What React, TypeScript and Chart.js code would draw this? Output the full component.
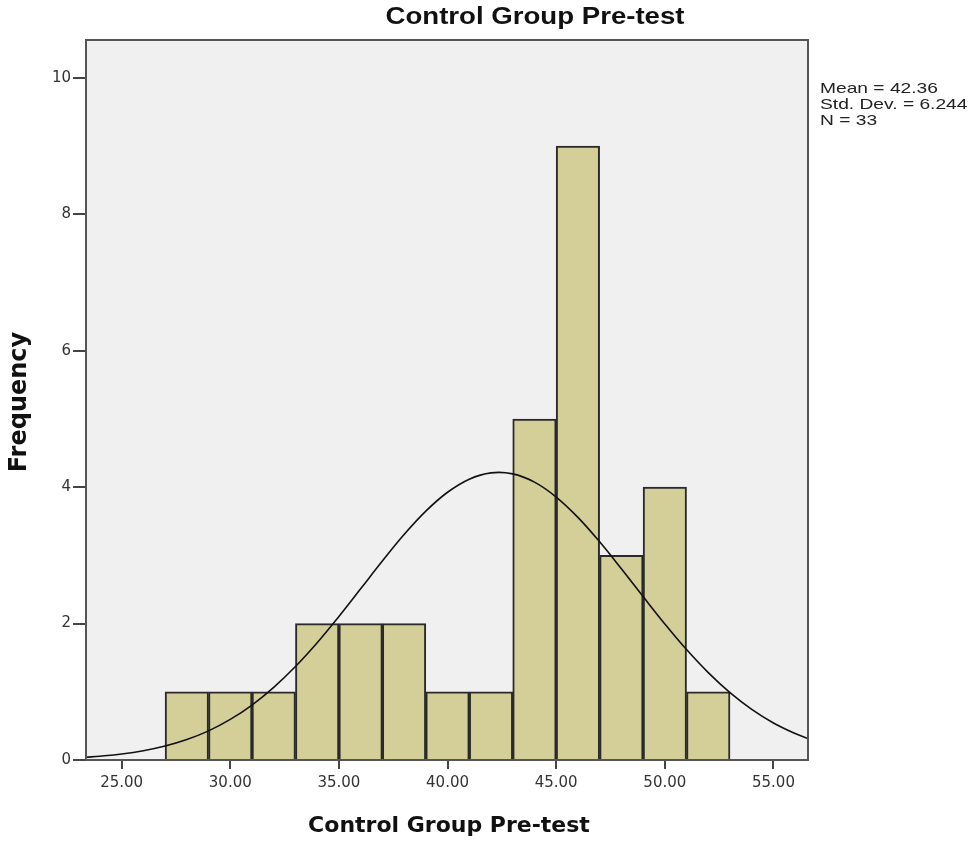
import React, { useEffect, useRef } from "react";
import { Chart, registerables } from "chart.js";

Chart.register(...registerables);

const chartTitle = "Control Group Pre-test";
const xTitle = "Control Group Pre-test";
const yTitle = "Frequency";
const binCenters = [28, 30, 32, 34, 36, 38, 40, 42, 44, 46, 48, 50, 52];
const frequencies = [1, 1, 1, 2, 2, 2, 1, 1, 5, 9, 3, 4, 1];
const curveX = [23.36, 24, 25, 26, 27, 28, 29, 30, 31, 32, 33, 34, 35, 36, 37, 38, 39, 40, 41, 42, 43, 44, 45, 46, 47, 48, 49, 50, 51, 52, 53, 54, 55, 56, 56.59];
const curveY = [0.041, 0.056, 0.088, 0.136, 0.205, 0.30, 0.427, 0.595, 0.806, 1.065, 1.371, 1.72, 2.105, 2.51, 2.917, 3.305, 3.649, 3.926, 4.118, 4.21, 4.195, 4.074, 3.856, 3.558, 3.199, 2.804, 2.396, 1.995, 1.619, 1.281, 0.987, 0.742, 0.543, 0.388, 0.314];
const xTicks = [25, 30, 35, 40, 45, 50, 55];
const yTicks = [0, 2, 4, 6, 8, 10];
const statsLines = ["Mean = 42.36", "Std. Dev. = 6.244", "N = 33"];

export default function App() {
  const ref = useRef<HTMLCanvasElement>(null);
  useEffect(() => {
    document.body.style.margin = "0";
    const canvas = ref.current!;
    const decor = {
      id: "decor",
      beforeDraw(chart: any) {
        const { ctx, chartArea: a } = chart;
        ctx.save();
        ctx.fillStyle = "#f0f0f0";
        ctx.fillRect(a.left, a.top, a.right - a.left, a.bottom - a.top);
        ctx.restore();
      },
      afterDatasetsDraw(chart: any) {
        const { ctx, chartArea: a } = chart;
        ctx.save();
        ctx.strokeStyle = "#555555";
        ctx.lineWidth = 2;
        ctx.strokeRect(a.left, a.top, a.right - a.left, a.bottom - a.top);
        ctx.restore();
      },
      afterDraw(chart: any) {
        const { ctx } = chart;
        ctx.save();
        ctx.fillStyle = "#111";
        ctx.textAlign = "center";
        ctx.textBaseline = "middle";
        ctx.save();
        ctx.translate(535, 18);
        ctx.scale(1.2, 1);
        ctx.font = "bold 23px 'Liberation Sans', Arial, sans-serif";
        ctx.fillText(chartTitle, 0, 0);
        ctx.restore();
        ctx.font = "bold 22px 'DejaVu Sans', sans-serif";
        ctx.fillText(xTitle, 449, 826);
        ctx.save();
        ctx.translate(20, 402);
        ctx.rotate(-Math.PI / 2);
        ctx.font = "bold 24px 'DejaVu Sans', sans-serif";
        ctx.fillText(yTitle, 0, 0);
        ctx.restore();
        ctx.fillStyle = "#222";
        ctx.textAlign = "left";
        statsLines.forEach((s, i) => {
          ctx.save();
          ctx.translate(820, 89 + i * 16);
          ctx.scale(1.28, 1);
          ctx.font = "15px 'Liberation Sans', Arial, sans-serif";
          ctx.fillText(s, 0, 0);
          ctx.restore();
        });
        ctx.restore();
      },
    };
    const chart = new Chart(canvas, {
      type: "bar",
      data: {
        datasets: [
          {
            type: "line",
            data: curveX.map((x, i) => ({ x, y: curveY[i] })),
            borderColor: "#111",
            borderWidth: 1.6,
            pointRadius: 0,
            tension: 0.4,
            fill: false,
            order: 0,
          } as any,
          {
            type: "bar",
            data: binCenters.map((x, i) => ({ x, y: frequencies[i] })),
            backgroundColor: "#d4cf98",
            borderColor: "#2a2a2a",
            borderWidth: 2,
            barPercentage: 1,
            categoryPercentage: 1,
            order: 1,
          } as any,
        ],
      },
      options: {
        animation: false,
        responsive: false,
        layout: { padding: { left: 0, right: 165, top: 40, bottom: 0 } },
        plugins: { legend: { display: false }, tooltip: { enabled: false }, title: { display: false } },
        scales: {
          x: {
            type: "linear",
            min: 23.36,
            max: 56.59,
            offset: false,
            afterBuildTicks: (s: any) => { s.ticks = xTicks.map((v) => ({ value: v })); },
            afterFit: (s: any) => { s.height = 81; },
            grid: { offset: false, drawOnChartArea: false, drawTicks: true, tickLength: 9, color: "#444", lineWidth: 2 },
            border: { display: false },
            ticks: {
              padding: 5,
              color: "#333",
              font: { family: "'DejaVu Sans', sans-serif", size: 15 },
              callback: (v: any) => Number(v).toFixed(2),
            },
          },
          y: {
            type: "linear",
            min: 0,
            max: 10.557,
            afterBuildTicks: (s: any) => { s.ticks = yTicks.map((v) => ({ value: v })); },
            afterFit: (s: any) => { s.width = 86; },
            grid: { drawOnChartArea: false, drawTicks: true, tickLength: 13, color: "#444", lineWidth: 2 },
            border: { display: false },
            ticks: {
              padding: 2,
              color: "#333",
              font: { family: "'DejaVu Sans', sans-serif", size: 15 },
              callback: (v: any) => String(v),
            },
          },
        },
      } as any,
      plugins: [decor],
    });
    return () => chart.destroy();
  }, []);
  return <canvas ref={ref} width={973} height={841} style={{ display: "block" }} />;
}
